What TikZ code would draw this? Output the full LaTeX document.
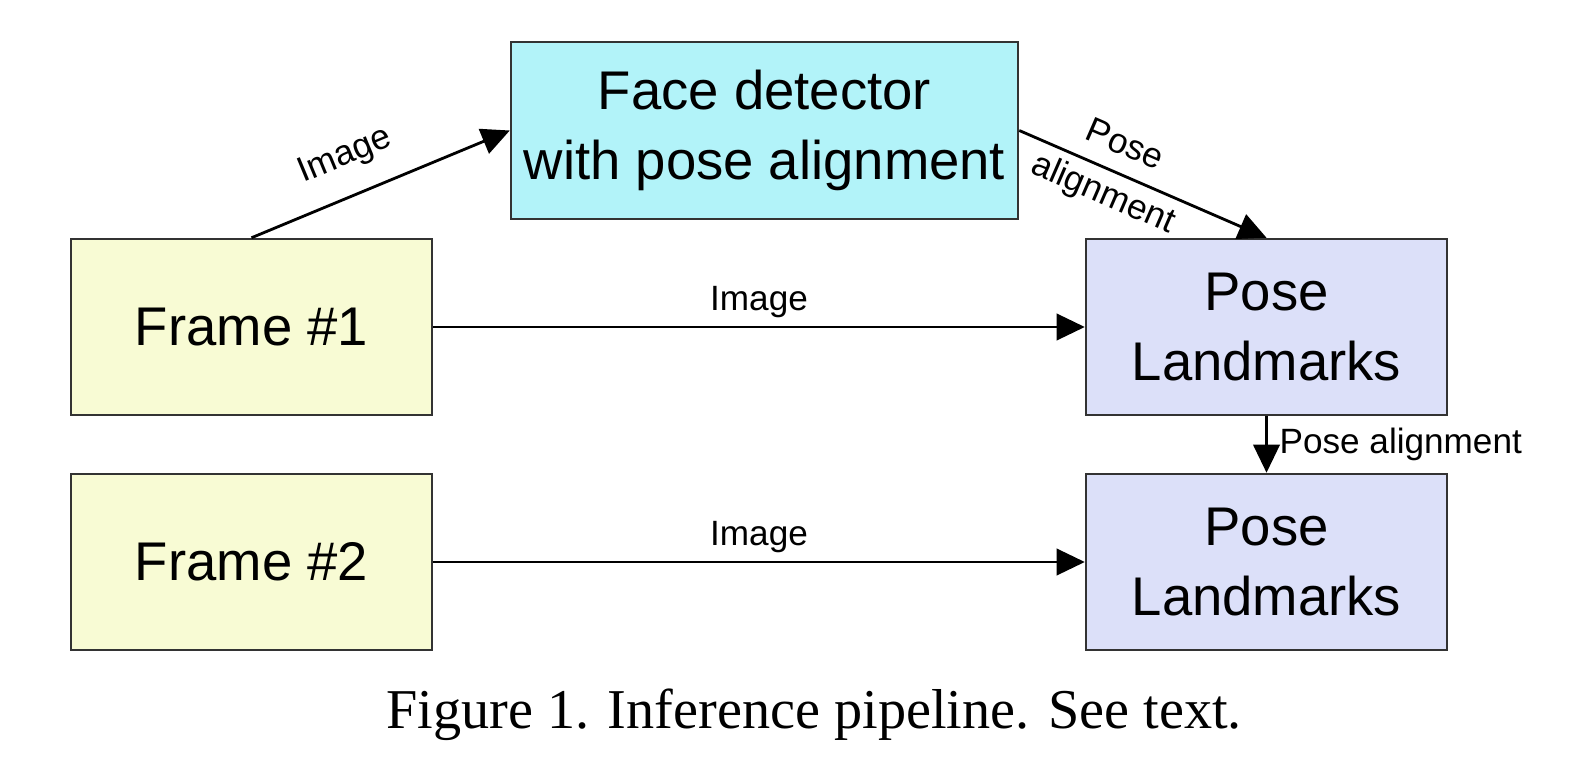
\documentclass[tikz,border=0pt]{standalone}
\usepackage{fontspec}
\setmainfont{Liberation Serif}
\setsansfont{Liberation Sans}
\usepackage{tikz}
\usetikzlibrary{arrows.meta,positioning}
\usepackage{xcolor}
\definecolor{facecyan}{HTML}{B2F3F9}
\definecolor{frameyellow}{HTML}{F8FBD4}
\definecolor{poselilac}{HTML}{DCE0F9}
\definecolor{edgegray}{HTML}{333333}

\begin{document}
\begin{tikzpicture}[
    stagebox/.style={
      draw=edgegray, line width=0.7pt, fill=#1,
      font=\sffamily\fontsize{15.5}{20}\selectfont,
      minimum width=3.61cm, minimum height=1.76cm,
      align=center, inner sep=3pt,
    },
    arr/.style={-{Triangle[length=8pt,width=7.5pt]}, line width=0.8pt, black},
    lbl/.style={font=\sffamily\fontsize{10}{12}\selectfont},
  ]

  % Canvas
  \useasboundingbox (0,0) rectangle (15.86,7.82);

  % Nodes
  \node[stagebox=facecyan, minimum width=5.07cm, minimum height=1.77cm] (face) at (7.645, 6.515)
    {Face detector\\with pose alignment};
  \node[stagebox=frameyellow] (frameA) at (2.515, 4.55) {Frame \#1};
  \node[stagebox=frameyellow] (frameB) at (2.515, 2.20) {Frame \#2};
  \node[stagebox=poselilac] (poseA) at (12.665, 4.55) {Pose\\Landmarks};
  \node[stagebox=poselilac] (poseB) at (12.665, 2.20) {Pose\\Landmarks};

  % Arrows
  \draw[arr] (frameA.north) -- (face.west)
    node[pos=0.42, sloped, above=3pt, lbl] {Image};
  \draw[arr] (face.east) -- (poseA.north)
    node[pos=0.38, sloped, lbl, align=center, font=\sffamily\fontsize{10}{15}\selectfont] {Pose\\alignment};
  \draw[arr] (frameA.east) -- (poseA.west)
    node[midway, above, lbl, yshift=-1pt] {Image};
  \draw[arr] (frameB.east) -- (poseB.west)
    node[midway, above, lbl, yshift=-1pt] {Image};
  \draw[arr] (poseA.south) -- (poseB.north)
    node[midway, right, lbl] {Pose alignment};

  % Caption
  \node[font=\rmfamily\fontsize{16}{18}\selectfont] (caption) at (8.14, 0.67)
    {Figure 1. Inference pipeline. See text.};

\end{tikzpicture}
\end{document}
